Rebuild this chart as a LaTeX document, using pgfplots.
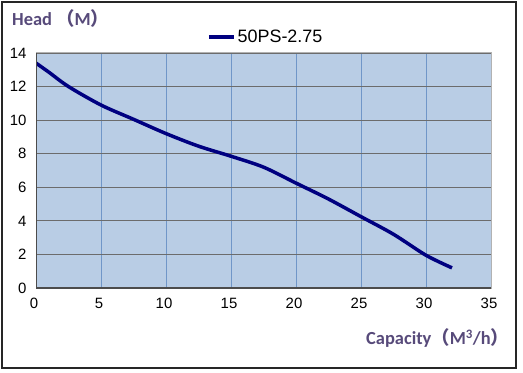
\documentclass[border=0pt]{standalone}
\usepackage{pgfplots}
\pgfplotsset{compat=1.18}
\usepackage{fontspec}
\setmainfont{Liberation Sans}
\newfontfamily\calfont{Carlito}
\newfontfamily\cjk{Noto Sans CJK SC}
\definecolor{bg}{HTML}{B9CDE5}
\definecolor{lab}{HTML}{574A7A}
\definecolor{navy}{HTML}{000080}
\definecolor{vgrid}{HTML}{7096C8}
\begin{document}
\begin{tikzpicture}[x=1bp,y=1bp]
\path[use as bounding box] (0,0) rectangle (523,372);
\draw[black!85, line width=1.2bp] (2,4) rectangle (516,370);
\begin{axis}[
  at={(36bp,84bp)}, anchor=south west,
  width=455bp, height=235bp, scale only axis,
  xmin=0, xmax=35, ymin=0, ymax=14,
  xtick={0,5,...,35}, ytick={0,2,...,14},
  axis background/.style={fill=bg},
  grid=major,
  x grid style={vgrid, line width=0.9bp},
  y grid style={gray!85!black, line width=0.9bp},
  major tick length=0pt,
  axis line style={gray!60, line width=1bp},
  tick label style={font=\fontsize{15}{18}\selectfont, black},
  /pgf/number format/assume math mode=true,
  xticklabel style={yshift=-7bp, xshift=-2bp},
  yticklabel style={xshift=-6bp},
  legend style={at={(0.505,1.02)}, anchor=south, draw=none, fill=none,
    font=\fontsize{18}{20}\selectfont},
  legend image code/.code={\draw[line width=3.5bp, navy] (0bp,0bp) -- (25bp,0bp);},
]
\addplot[navy, line width=3.5bp, smooth] coordinates {
(0,13.4) (1,12.85) (2.5,12.0) (5,10.9) (7.5,10.05) (10,9.2) (12.5,8.45)
(15,7.85) (17.5,7.2) (20,6.25) (22.5,5.3) (25,4.25) (27.5,3.2) (30,1.95) (32,1.2)
};
\addlegendentry{50PS-2.75}
\draw[black!70, line width=2bp] (rel axis cs:0,1) -- (rel axis cs:0,0) -- (rel axis cs:1,0);
\end{axis}
\node[anchor=west, text=lab, font=\calfont\bfseries\fontsize{18.5}{20}\selectfont, inner sep=0pt] at (12,354) {Head {\cjk （}M{\cjk ）}};
\node[anchor=west, text=lab, font=\calfont\bfseries\fontsize{18.5}{20}\selectfont, inner sep=0pt] at (366,34) {Capacity{\cjk （}M\textsuperscript{3}/h{\cjk ）}};
\end{tikzpicture}
\end{document}
